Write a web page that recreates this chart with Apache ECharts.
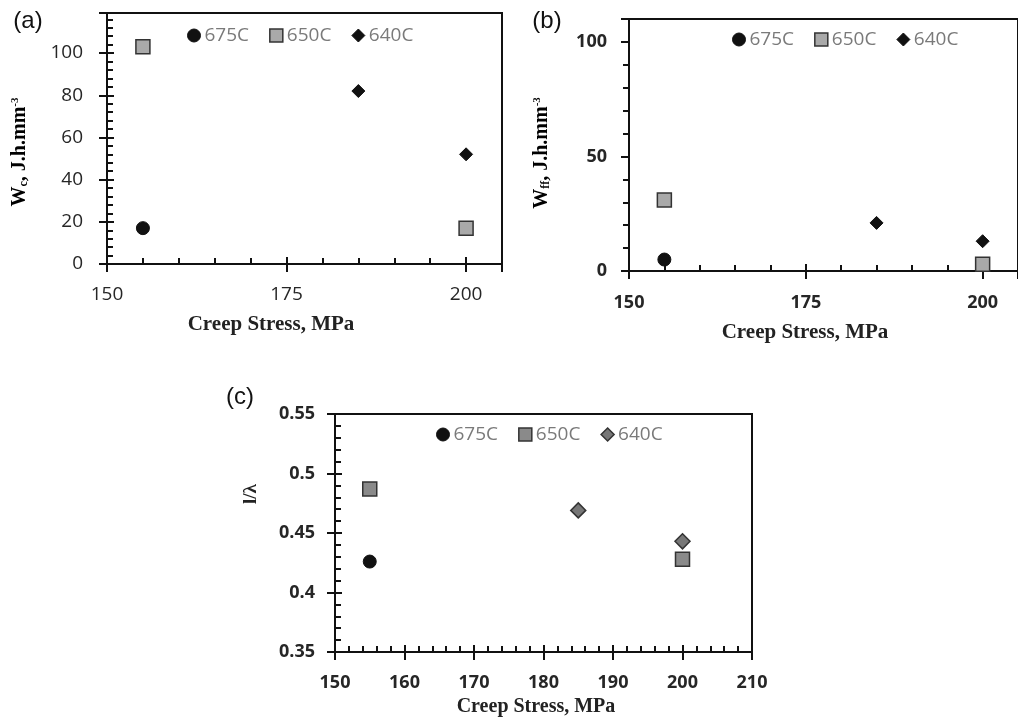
<!DOCTYPE html>
<html>
<head>
<meta charset="utf-8">
<script src="https://cdn.jsdelivr.net/npm/echarts@6/dist/echarts.min.js"></script>
<style>
  html, body { margin: 0; padding: 0; background: #fff; }
  #chart { width: 1018px; height: 718px; }
</style>
</head>
<body>
<div id="chart"></div>
<script>
// 三个子图的数据 [应力 MPa, 数值]
const legendNames = ['675C', '650C', '640C']

// (a) Wc
const wc675 = [[155, 17]]
const wc650 = [[155, 103], [200, 17]]
const wc640 = [[185, 82], [200, 52]]

// (b) Wff
const wf675 = [[155, 5]]
const wf650 = [[155, 31], [200, 3]]
const wf640 = [[185, 21], [200, 13]]

// (c) l/λ
const lam675 = [[155, 0.426]]
const lam650 = [[155, 0.487], [200, 0.428]]
const lam640 = [[185, 0.469], [200, 0.443]]

const BLACK = '#111'
const sans = 'Open Sans'
const serif = 'Liberation Serif'

// 主轴（标签 + 次刻度）和一条只画朝外主刻度的辅助轴
function axisPair (dim, grid, min, max, major, split, label, inside) {
  const position = dim === 'x' ? 'bottom' : 'left'
  return [
    {
      type: 'value', gridIndex: grid, position, min, max, interval: major,
      axisLine: { onZero: false, lineStyle: { color: BLACK, width: 2 } },
      axisTick: { inside, length: 7, lineStyle: { color: BLACK, width: 2 } },
      minorTick: { show: true, splitNumber: split, length: 6, lineStyle: { color: BLACK, width: 2 } },
      axisLabel: { showMaxLabel: label.showMax, margin: label.margin, fontSize: label.size, fontWeight: label.weight, color: '#262626', fontFamily: sans },
      splitLine: { show: false }
    },
    {
      type: 'value', gridIndex: grid, position, min, max, interval: major,
      axisLine: { show: false, onZero: false },
      axisTick: { inside: false, length: 8, lineStyle: { color: BLACK, width: 2 } },
      axisLabel: { show: false },
      splitLine: { show: false }
    }
  ]
}

const circleStyle = { color: BLACK, borderColor: BLACK, borderWidth: 1, opacity: 1 }
const squareStyle = { color: '#a9a9a9', borderColor: '#333', borderWidth: 1.5, opacity: 1 }
const squareStyleC = { color: '#8a8a8a', borderColor: '#333', borderWidth: 1.5, opacity: 1 }
const diamondStyle = { color: BLACK, borderColor: BLACK, borderWidth: 1, opacity: 1 }
const diamondStyleC = { color: '#777', borderColor: '#333', borderWidth: 1.5, opacity: 1 }

function scatterSet (axisIdx, d675, d650, d640, sq, dm, dmSize) {
  return [
    { name: legendNames[0], type: 'scatter', xAxisIndex: axisIdx, yAxisIndex: axisIdx, symbol: 'circle', symbolSize: 13, itemStyle: circleStyle, data: d675 },
    { name: legendNames[1], type: 'scatter', xAxisIndex: axisIdx, yAxisIndex: axisIdx, symbol: 'rect', symbolSize: 14, itemStyle: sq, data: d650 },
    { name: legendNames[2], type: 'scatter', xAxisIndex: axisIdx, yAxisIndex: axisIdx, symbol: 'diamond', symbolSize: dmSize, itemStyle: dm, data: d640 }
  ]
}

function legendAt (left, top, sq, dm) {
  return {
    left, top, orient: 'horizontal', selectedMode: false,
    itemWidth: 13, itemHeight: 13, itemGap: 20,
    textStyle: { color: '#7a7a7a', fontSize: 19, fontFamily: sans, padding: [0, 0, 0, -1] },
    data: [
      { name: legendNames[0], icon: 'circle', itemStyle: circleStyle },
      { name: legendNames[1], icon: 'rect', itemStyle: sq },
      { name: legendNames[2], icon: 'diamond', itemStyle: dm }
    ]
  }
}

const titleFont = { fontFamily: serif, fontWeight: 'bold', fill: '#222' }
const richY = {
  w: { fontSize: 20, lineHeight: 20, fontFamily: serif, fontWeight: 'bold', color: '#222', verticalAlign: 'middle' },
  sub: { fontSize: 12, lineHeight: 12, fontFamily: serif, fontWeight: 'bold', color: '#222', verticalAlign: 'bottom' },
  sup: { fontSize: 11, lineHeight: 11, fontFamily: serif, fontWeight: 'bold', color: '#222', verticalAlign: 'top' }
}

const labA = { showMax: false, margin: 24, size: 19, weight: 'normal' }
const labAx = { showMax: false, margin: 21, size: 19, weight: 'normal' }
const labB = { showMax: false, margin: 22, size: 18, weight: 'bold' }
const labBx = { showMax: false, margin: 23, size: 18, weight: 'bold' }
const labC = { showMax: true, margin: 20, size: 18, weight: 'bold' }
const labCx = { showMax: true, margin: 22, size: 18, weight: 'bold' }

const myChart = echarts.init(document.getElementById('chart'))

const option = {
  backgroundColor: '#fff',
  animation: false,
  grid: [
    { left: 107, top: 13, right: 516, bottom: 454, show: true, borderColor: BLACK, borderWidth: 2 },
    { left: 629, top: 19, right: -11, bottom: 447, show: true, borderColor: BLACK, borderWidth: 2 },
    { left: 335, top: 414, right: 266, bottom: 66, show: true, borderColor: BLACK, borderWidth: 2 }
  ],
  // 索引 0,2,4 为主轴；1,3,5 为辅助刻度轴
  xAxis: [
    ...axisPair('x', 0, 150, 205, 25, 5, labAx, true),
    ...axisPair('x', 1, 150, 205, 25, 5, labBx, true),
    ...axisPair('x', 2, 150, 210, 10, 5, labCx, true)
  ],
  yAxis: [
    ...axisPair('y', 0, 0, 119, 20, 5, labA, true),
    ...axisPair('y', 1, 0, 110, 50, 5, labB, false),
    ...axisPair('y', 2, 0.35, 0.55, 0.05, 5, labC, true)
  ],
  legend: [
    legendAt(182, 21, squareStyle, diamondStyle),
    legendAt(727, 25, squareStyle, diamondStyle),
    legendAt(431, 420, squareStyleC, diamondStyleC)
  ],
  series: [
    ...scatterSet(0, wc675, wc650, wc640, squareStyle, diamondStyle, 13),
    ...scatterSet(2, wf675, wf650, wf640, squareStyle, diamondStyle, 13),
    ...scatterSet(4, lam675, lam650, lam640, squareStyleC, diamondStyleC, 15)
  ],
  graphic: [
    // 面板标签
    { type: 'text', x: 28, y: 21, style: { text: '(a)', font: '24px "Liberation Sans"', fill: BLACK, align: 'center', verticalAlign: 'middle' } },
    { type: 'text', x: 547, y: 21, style: { text: '(b)', font: '24px "Liberation Sans"', fill: BLACK, align: 'center', verticalAlign: 'middle' } },
    { type: 'text', x: 240, y: 397, style: { text: '(c)', font: '24px "Liberation Sans"', fill: BLACK, align: 'center', verticalAlign: 'middle' } },
    // x 轴标题
    { type: 'text', x: 271, y: 325, style: { text: 'Creep Stress, MPa', fontSize: 21, ...titleFont, align: 'center', verticalAlign: 'middle' } },
    { type: 'text', x: 805, y: 333, style: { text: 'Creep Stress, MPa', fontSize: 21, ...titleFont, align: 'center', verticalAlign: 'middle' } },
    { type: 'text', x: 536, y: 707, style: { text: 'Creep Stress, MPa', fontSize: 20, ...titleFont, align: 'center', verticalAlign: 'middle' } },
    // y 轴标题
    { type: 'text', x: 20, y: 152, rotation: Math.PI / 2, style: { text: '{w|W}{sub|c}{w|, J.h.mm}{sup|-3}', rich: richY, align: 'center', verticalAlign: 'middle' } },
    { type: 'text', x: 542, y: 153, rotation: Math.PI / 2, style: { text: '{w|W}{sub|ff}{w|, J.h.mm}{sup|-3}', rich: richY, align: 'center', verticalAlign: 'middle' } },
    { type: 'text', x: 251, y: 494, rotation: Math.PI / 2, style: { text: 'l/λ', fontSize: 19, ...titleFont, align: 'center', verticalAlign: 'middle' } }
  ]
}

myChart.setOption(option)
</script>
</body>
</html>
